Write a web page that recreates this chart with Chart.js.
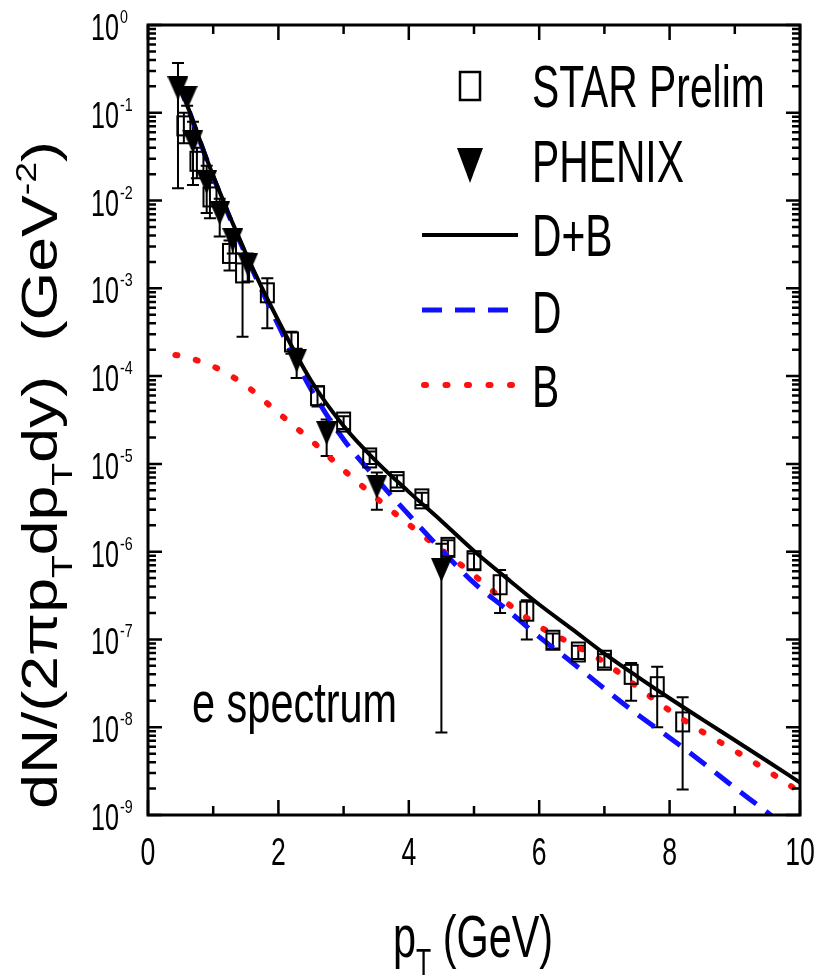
<!DOCTYPE html>
<html><head><meta charset="utf-8">
<script src="https://cdn.jsdelivr.net/npm/chart.js@4.4.1/dist/chart.umd.min.js"></script>
<style>html,body{margin:0;padding:0;background:#fff;}canvas{display:block;}</style>
</head><body>
<canvas id="c" width="818" height="979"></canvas>
<script>
// ---- data ----
const curveX = [0.45, 0.5, 1.0, 1.5, 2.0, 2.5, 3.0, 3.5, 4.0, 4.5, 5.0, 5.5, 6.0, 6.5, 7.0, 7.5, 8.0, 8.5, 9.0, 9.5, 10.0];
const dPlusB = [0.229, 0.19, 0.019, 2.5e-3, 4.27e-4, 8.9e-5, 2.7e-5, 1.07e-5, 4.8e-6, 2.24e-6, 1.02e-6, 5.0e-7, 2.5e-7, 1.32e-7, 6.9e-8, 3.8e-8, 2.14e-8, 1.23e-8, 7.1e-9, 4.1e-9, 2.34e-9];
const dCurveX = [0.45, 0.5, 1.0, 1.5, 2.0, 2.5, 3.0, 3.5, 4.0, 4.5, 5.0, 5.5, 6.0, 6.5, 7.0, 7.5, 8.0, 8.5, 9.0, 9.5, 9.7];
const dOnly = [0.224, 0.186, 0.0186, 2.4e-3, 3.8e-4, 7.1e-5, 1.9e-5, 6.8e-6, 2.63e-6, 1.05e-6, 4.4e-7, 2.2e-7, 1.07e-7, 5.5e-8, 2.75e-8, 1.41e-8, 7.6e-9, 4.0e-9, 2.04e-9, 1.07e-9, 8.1e-10];
const bCurveX = [0.42, 0.5, 1.0, 1.5, 2.0, 2.5, 3.0, 3.5, 4.0, 4.5, 5.0, 5.5, 6.0, 6.5, 7.0, 7.5, 8.0, 8.5, 9.0, 9.5, 10.0];
const bOnly = [1.74e-4, 1.70e-4, 1.29e-4, 7.8e-5, 3.8e-5, 1.86e-5, 8.5e-6, 4.1e-6, 2.04e-6, 1.05e-6, 5.4e-7, 2.63e-7, 1.41e-7, 8.9e-8, 5.5e-8, 2.9e-8, 1.55e-8, 8.9e-9, 5.4e-9, 3.2e-9, 1.82e-9];

const starX  = [0.55, 0.75, 0.95, 1.25, 1.45, 1.83, 2.2, 2.6, 3.0, 3.4, 3.82, 4.2, 4.6, 5.0, 5.4, 5.81, 6.21, 6.6, 7.0, 7.41, 7.81, 8.2];
const starY  = [7.1e-2, 2.8e-2, 1.1e-2, 2.5e-3, 1.5e-3, 8.9e-4, 2.45e-4, 6.0e-5, 3.0e-5, 1.17e-5, 6.3e-6, 4.0e-6, 1.12e-6, 7.9e-7, 4.2e-7, 2.1e-7, 9.8e-8, 7.2e-8, 5.8e-8, 4.0e-8, 2.9e-8, 1.15e-8];
const starLo = [4.5e-2, 1.8e-2, 6.3e-3, 1.6e-3, 2.8e-4, 3.5e-4, 1.8e-4, 4.5e-5, 2.5e-5, 1.0e-5, 5.4e-6, 3.4e-6, 8.9e-7, 6.3e-7, 2.0e-7, 1.0e-7, 7.9e-8, 6.0e-8, 4.8e-8, 2.0e-8, 1.0e-8, 1.95e-9];
const starHi = [1.0e-1, 4.0e-2, 1.6e-2, 3.5e-3, 2.5e-3, 1.3e-3, 3.2e-4, 7.6e-5, 3.5e-5, 1.38e-5, 7.4e-6, 4.7e-6, 1.35e-6, 9.5e-7, 6.2e-7, 2.8e-7, 1.17e-7, 8.5e-8, 6.8e-8, 5.4e-8, 4.9e-8, 2.2e-8];

const phenixX  = [0.46, 0.60, 0.69, 0.90, 1.10, 1.30, 1.53, 2.28, 2.74, 3.51, 4.50];
const phenixY  = [0.19, 0.148, 0.047, 0.0162, 0.0072, 0.00355, 0.00186, 1.5e-4, 2.24e-5, 5.5e-6, 6.2e-7];
const phenixLo = [0.0138, 0.12, 0.015, 7.2e-3, 3.9e-3, 2.5e-3, 1.2e-3, 9.5e-5, 1.23e-5, 3.0e-6, 8.7e-9];
const phenixHi = [0.37, 0.18, 0.079, 2.5e-2, 1.05e-2, 4.6e-3, 2.5e-3, 2.05e-4, 3.2e-5, 8.0e-6, 1.23e-6];

const xTicks = [0, 1, 2, 3, 4, 5, 6, 7, 8, 9, 10];
const xTickLabels = ['0', '', '2', '', '4', '', '6', '', '8', '', '10'];
const yExponents = [0, -1, -2, -3, -4, -5, -6, -7, -8, -9];
const legendLabels = ['STAR Prelim', 'PHENIX', 'D+B', 'D', 'B'];

// ---- styling ----
const FONT = '"Liberation Sans", Arial, Helvetica, sans-serif';
const BLUE = '#1010ff', RED = '#ff1010';

function makeSquare(w, h, lw) {
  const c = document.createElement('canvas');
  c.width = w + 2 * lw; c.height = h + 2 * lw;
  const g = c.getContext('2d');
  g.lineWidth = lw; g.strokeStyle = '#000';
  g.strokeRect(lw, lw, w, h);
  return c;
}
function makeTri(w, h) {
  const c = document.createElement('canvas');
  c.width = w; c.height = h;
  const g = c.getContext('2d');
  g.fillStyle = '#000';
  g.beginPath(); g.moveTo(0, 0); g.lineTo(w, 0); g.lineTo(w / 2, h); g.closePath(); g.fill();
  return c;
}
const sqImg = makeSquare(13, 19, 2);
const triImg = makeTri(21, 24);

function pts(xs, ys) { return xs.map((x, i) => ({ x: x, y: ys[i] })); }

function txt(ctx, s, x, y, size, sx, align) {
  ctx.save();
  ctx.translate(x, y); ctx.scale(sx, 1);
  ctx.font = size + 'px ' + FONT;
  ctx.textAlign = align || 'left';
  ctx.textBaseline = 'alphabetic';
  ctx.fillStyle = '#000';
  ctx.fillText(s, 0, 0);
  ctx.restore();
}
function measure(ctx, s, size, sx) {
  ctx.save(); ctx.font = size + 'px ' + FONT; const w = ctx.measureText(s).width * sx; ctx.restore(); return w;
}
// rich text segments: {t, mode: 'n'|'sub'|'sup'}
function richWidth(ctx, segs, F, sx) {
  let w = 0;
  segs.forEach(s => { const f = s.mode === 'n' ? F : F * 0.6; w += measure(ctx, s.t, f, sx); });
  return w;
}
function drawRich(ctx, segs, x, y, F, sx) {
  let cx = x;
  segs.forEach(s => {
    const f = s.mode === 'n' ? F : F * 0.6;
    const dy = s.mode === 'sub' ? F * 0.3 : (s.mode === 'sup' ? -F * 0.42 : 0);
    txt(ctx, s.t, cx, y + dy, f, sx, 'left');
    cx += measure(ctx, s.t, f, sx);
  });
}

const errorBars = {
  id: 'errorBars',
  beforeDatasetsDraw(chart) {
    const ctx = chart.ctx, xs = chart.scales.x, ys = chart.scales.y, a = chart.chartArea;
    ctx.save();
    ctx.beginPath(); ctx.rect(a.left, a.top, a.width, a.height); ctx.clip();
    ctx.strokeStyle = '#000'; ctx.lineWidth = 2;
    const draw = (X, L, H) => {
      X.forEach((x, i) => {
        const px = xs.getPixelForValue(x);
        const p1 = ys.getPixelForValue(L[i]), p2 = ys.getPixelForValue(H[i]);
        ctx.beginPath();
        ctx.moveTo(px, p1); ctx.lineTo(px, p2);
        ctx.moveTo(px - 6, p1); ctx.lineTo(px + 6, p1);
        ctx.moveTo(px - 6, p2); ctx.lineTo(px + 6, p2);
        ctx.stroke();
      });
    };
    draw(starX, starLo, starHi);
    draw(phenixX, phenixLo, phenixHi);
    ctx.restore();
  }
};

const decor = {
  id: 'decor',
  afterDraw(chart) {
    const ctx = chart.ctx, xs = chart.scales.x, ys = chart.scales.y, a = chart.chartArea;
    ctx.save();
    ctx.strokeStyle = '#000'; ctx.lineCap = 'butt';
    // ticks
    ctx.lineWidth = 2.5;
    ctx.beginPath();
    xTicks.forEach((v, i) => {
      const px = xs.getPixelForValue(v);
      const len = xTickLabels[i] !== '' ? 15 : 9;
      ctx.moveTo(px, a.bottom); ctx.lineTo(px, a.bottom - len);
      ctx.moveTo(px, a.top); ctx.lineTo(px, a.top + len);
    });
    yExponents.forEach(e => {
      for (let m = 1; m <= 9; m++) {
        const v = m * Math.pow(10, e);
        if (v > 1.0000001 || v < 0.99e-9) continue;
        const py = ys.getPixelForValue(v);
        const len = m === 1 ? 14 : 8;
        ctx.moveTo(a.left, py); ctx.lineTo(a.left + len, py);
        ctx.moveTo(a.right, py); ctx.lineTo(a.right - len, py);
      }
    });
    ctx.stroke();
    // frame
    ctx.lineWidth = 3;
    ctx.strokeRect(a.left, a.top, a.width, a.height);

    // y tick labels
    yExponents.forEach(e => {
      const py = ys.getPixelForValue(Math.pow(10, e));
      txt(ctx, '10', 119, py + 15, 37, 0.68, 'right');
      txt(ctx, String(e), 120, py - 2, 19, 0.75, 'left');
    });
    // x tick labels
    xTicks.forEach((v, i) => {
      if (!xTickLabels[i]) return;
      txt(ctx, xTickLabels[i], xs.getPixelForValue(v), 865, 38, 0.7, 'center');
    });
    // x title
    const xSegs = [{ t: 'p', mode: 'n' }, { t: 'T', mode: 'sub' }, { t: ' (GeV)', mode: 'n' }];
    const xw = richWidth(ctx, xSegs, 60, 0.69);
    drawRich(ctx, xSegs, 473 - xw / 2, 957, 60, 0.69);
    // y title (rotated)
    const ySegs = [{ t: 'dN/(2πp', mode: 'n' }, { t: 'T', mode: 'sub' }, { t: 'dp', mode: 'n' }, { t: 'T', mode: 'sub' },
      { t: 'dy)  (GeV', mode: 'n' }, { t: '-2', mode: 'sup' }, { t: ')', mode: 'n' }];
    ctx.save();
    ctx.translate(57, 475); ctx.rotate(-Math.PI / 2);
    const yw = richWidth(ctx, ySegs, 50, 1.25);
    drawRich(ctx, ySegs, -yw / 2, 0, 50, 1.25);
    ctx.restore();
    // annotation
    txt(ctx, 'e spectrum', 192, 722, 58, 0.715, 'left');

    // legend
    ctx.lineWidth = 2.5; ctx.strokeStyle = '#000';
    ctx.strokeRect(460, 72, 20, 28);
    ctx.fillStyle = '#000';
    ctx.beginPath(); ctx.moveTo(457, 148); ctx.lineTo(483, 148); ctx.lineTo(470, 183); ctx.closePath(); ctx.fill();
    ctx.lineWidth = 4; ctx.setLineDash([]);
    ctx.beginPath(); ctx.moveTo(422, 235); ctx.lineTo(518, 235); ctx.stroke();
    ctx.lineWidth = 5; ctx.strokeStyle = BLUE; ctx.setLineDash([20, 13]);
    ctx.beginPath(); ctx.moveTo(422, 310); ctx.lineTo(512, 310); ctx.stroke();
    ctx.lineWidth = 6; ctx.strokeStyle = RED; ctx.lineCap = 'round'; ctx.setLineDash([2, 19.5]);
    ctx.beginPath(); ctx.moveTo(424, 385); ctx.lineTo(512, 385); ctx.stroke();
    ctx.setLineDash([]);
    const lb = [107, 182, 256, 333, 407];
    legendLabels.forEach((s, i) => txt(ctx, s, 532, lb[i], 60, 0.68, 'left'));
    ctx.restore();
  }
};

new Chart(document.getElementById('c'), {
  type: 'scatter',
  data: {
    datasets: [
      { label: legendLabels[0], data: pts(starX, starY), pointStyle: sqImg, pointRadius: 5, showLine: false, order: 0 },
      { label: legendLabels[1], data: pts(phenixX, phenixY), pointStyle: triImg, pointRadius: 5, showLine: false, order: 0 },
      { label: legendLabels[2], data: pts(curveX, dPlusB), showLine: true, borderColor: '#000', borderWidth: 4, pointRadius: 0, cubicInterpolationMode: 'monotone', order: 1 },
      { label: legendLabels[3], data: pts(dCurveX, dOnly), showLine: true, borderColor: BLUE, borderWidth: 5, borderDash: [20, 12], pointRadius: 0, cubicInterpolationMode: 'monotone', order: 2 },
      { label: legendLabels[4], data: pts(bCurveX, bOnly), showLine: true, borderColor: RED, borderWidth: 6, borderDash: [2, 19], borderCapStyle: 'round', pointRadius: 0, cubicInterpolationMode: 'monotone', order: 3 }
    ]
  },
  options: {
    responsive: false,
    devicePixelRatio: 1,
    animation: false,
    layout: { padding: { left: 148, right: 18, top: 25, bottom: 164 } },
    plugins: { legend: { display: false }, tooltip: { enabled: false } },
    scales: {
      x: { type: 'linear', min: 0, max: 10, display: false },
      y: { type: 'logarithmic', min: 1e-9, max: 1, display: false }
    }
  },
  plugins: [errorBars, decor]
});
</script>
</body></html>
